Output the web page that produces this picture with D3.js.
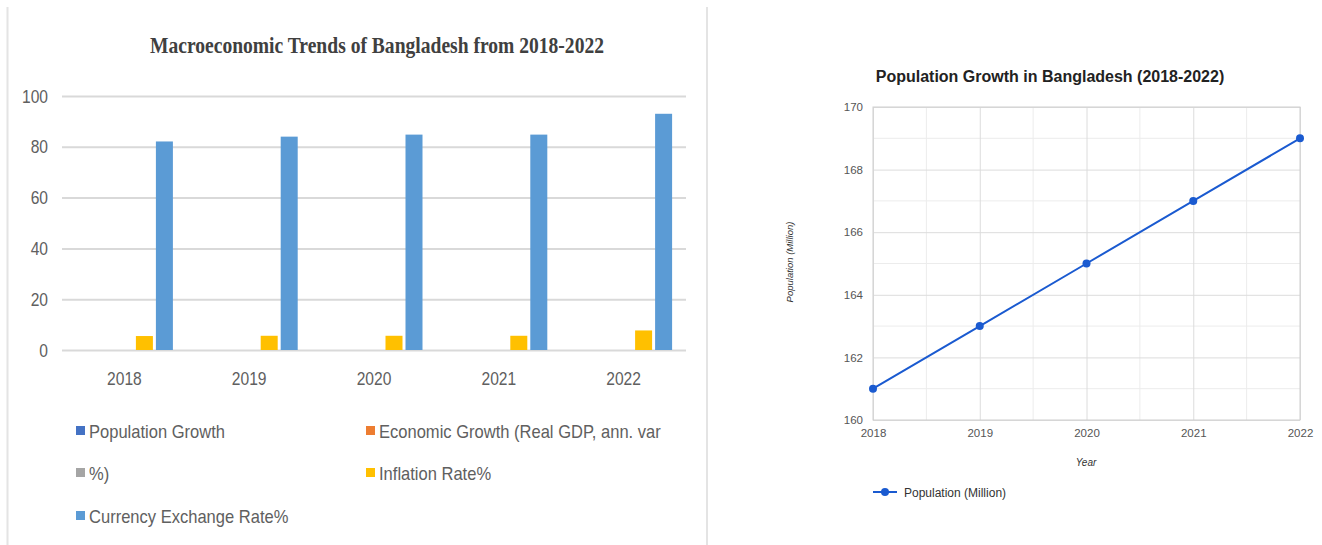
<!DOCTYPE html>
<html>
<head>
<meta charset="utf-8">
<script src="https://cdnjs.cloudflare.com/ajax/libs/d3/7.8.5/d3.min.js"></script>
<style>
  body { margin: 0; background: #fff; }
  svg { display: block; }
</style>
</head>
<body>
<svg id="chart" width="1322" height="545"></svg>
<script>
// left chart data
const years = ["2018", "2019", "2020", "2021", "2022"];
const seriesNames = ["Population Growth", "Economic Growth (Real GDP, ann. var", "%)", "Inflation Rate%", "Currency Exchange Rate%"];
const seriesColors = ["#4472c4", "#ed7d31", "#a5a5a5", "#ffc000", "#5b9bd5"];
const popGrowth = [0, 0, 0, 0, 0];
const econGrowth = [0, 0, 0, 0, 0];
const pctCol = [0, 0, 0, 0, 0];
const inflation = [5.5, 5.6, 5.6, 5.6, 7.7];
const exchange = [82.1, 84.0, 84.8, 84.8, 93.0];
const barTicks = [0, 20, 40, 60, 80, 100];

// right chart data
const popYears = [2018, 2019, 2020, 2021, 2022];
const population = [161, 163, 165, 167, 169];
const popTicks = [160, 162, 164, 166, 168, 170];

const svg = d3.select("#chart");
const sans = "'Liberation Sans', Arial, sans-serif";

// squeeze text so it looks like the condensed office font
function condense(sel, k) {
  sel.each(function () {
    const w = this.getComputedTextLength();
    d3.select(this).attr("textLength", w * k).attr("lengthAdjust", "spacingAndGlyphs");
  });
}

// panel borders
svg.append("line").attr("x1", 7.5).attr("x2", 7.5).attr("y1", 7).attr("y2", 545)
  .attr("stroke", "#e4e4e4").attr("stroke-width", 2);
svg.append("line").attr("x1", 707).attr("x2", 707).attr("y1", 7).attr("y2", 545)
  .attr("stroke", "#e4e4e4").attr("stroke-width", 2);

// ---------- left: grouped bars ----------
const L = { left: 62, right: 686, top: 96, bottom: 350 };
const gL = svg.append("g");

gL.append("text").attr("x", 377).attr("y", 53).attr("text-anchor", "middle")
  .attr("font-family", "'Liberation Serif', 'Times New Roman', serif").attr("font-weight", "bold")
  .attr("font-size", 22.5).attr("fill", "#404040")
  .attr("textLength", 454).attr("lengthAdjust", "spacingAndGlyphs")
  .text("Macroeconomic Trends of Bangladesh from 2018-2022");

const x0 = d3.scaleBand().domain(years).range([L.left, L.right]);
const y0 = d3.scaleLinear().domain([0, 100]).range([L.bottom, L.top]);
const x1 = d3.scaleBand().domain(d3.range(5)).range([-48.5, 48.5]).paddingInner(0.15);

const yAxL = gL.append("g").attr("transform", `translate(${L.left},0)`)
  .call(d3.axisLeft(y0).tickValues(barTicks).tickSize(-(L.right - L.left)).tickPadding(14));
yAxL.select(".domain").remove();
yAxL.selectAll(".tick line").attr("stroke", "#d9d9d9").attr("stroke-width", 2);
yAxL.selectAll(".tick text").attr("font-family", sans).attr("font-size", 19).attr("fill", "#606060")
  .call(condense, 0.82);

const xAxL = gL.append("g").attr("transform", `translate(0,${L.bottom})`)
  .call(d3.axisBottom(x0).tickSize(0).tickPadding(22));
xAxL.select(".domain").remove();
xAxL.selectAll(".tick text").attr("font-family", sans).attr("font-size", 19).attr("fill", "#606060")
  .call(condense, 0.82);

const allSeries = [popGrowth, econGrowth, pctCol, inflation, exchange];
allSeries.forEach((vals, si) => {
  gL.append("g").selectAll("rect").data(vals).enter().append("rect")
    .attr("x", (d, i) => x0(years[i]) + x0.bandwidth() / 2 + x1(si))
    .attr("width", x1.bandwidth())
    .attr("y", d => y0(d))
    .attr("height", d => y0(0) - y0(d))
    .attr("fill", seriesColors[si]);
});

// legend
const legPos = [[76, 431], [366, 431], [76, 473], [366, 473], [76, 516]];
seriesNames.forEach((name, i) => {
  const [lx, ly] = legPos[i];
  gL.append("rect").attr("x", lx).attr("y", ly - 5).attr("width", 9).attr("height", 9)
    .attr("fill", seriesColors[i]);
  gL.append("text").attr("x", lx + 13).attr("y", ly + 7)
    .attr("font-family", sans).attr("font-size", 19).attr("fill", "#606060").text(name)
    .call(condense, 0.87);
});

// ---------- right: line chart ----------
const R = { left: 873, right: 1300, top: 107, bottom: 420 };
const gR = svg.append("g");

gR.append("text").attr("x", 1050).attr("y", 82).attr("text-anchor", "middle")
  .attr("font-family", sans).attr("font-weight", "bold").attr("font-size", 16).attr("fill", "#222")
  .text("Population Growth in Bangladesh (2018-2022)");

const xR = d3.scaleLinear().domain([2018, 2022]).range([R.left, R.right]);
const yR = d3.scaleLinear().domain([160, 170]).range([R.bottom, R.top]);

// minor grid
gR.append("g").selectAll("line").data([161, 163, 165, 167, 169])
  .enter().append("line")
  .attr("x1", R.left).attr("x2", R.right)
  .attr("y1", d => yR(d)).attr("y2", d => yR(d))
  .attr("stroke", "#ececec");
gR.append("g").selectAll("line").data([2018.5, 2019.5, 2020.5, 2021.5])
  .enter().append("line")
  .attr("x1", d => xR(d)).attr("x2", d => xR(d))
  .attr("y1", R.top).attr("y2", R.bottom)
  .attr("stroke", "#ececec");

const yAxR = gR.append("g").attr("transform", `translate(${R.left},0)`)
  .call(d3.axisLeft(yR).tickValues(popTicks).tickFormat(d3.format("d")).tickSize(-(R.right - R.left)).tickPadding(10));
yAxR.select(".domain").remove();
yAxR.selectAll(".tick line").attr("stroke", "#dcdcdc");
yAxR.selectAll(".tick text").attr("font-family", sans).attr("font-size", 11.5).attr("fill", "#555");

const xAxR = gR.append("g").attr("transform", `translate(0,${R.bottom})`)
  .call(d3.axisBottom(xR).tickValues(popYears).tickFormat(d3.format("d")).tickSize(-(R.bottom - R.top)).tickPadding(9));
xAxR.select(".domain").remove();
xAxR.selectAll(".tick line").attr("stroke", "#dcdcdc");
xAxR.selectAll(".tick text").attr("font-family", sans).attr("font-size", 11.5).attr("fill", "#555");

gR.append("rect").attr("x", R.left).attr("y", R.top).attr("width", R.right - R.left).attr("height", R.bottom - R.top)
  .attr("fill", "none").attr("stroke", "#cfcfcf");

gR.append("text").attr("x", 1086).attr("y", 466).attr("text-anchor", "middle")
  .attr("font-family", sans).attr("font-style", "italic").attr("font-size", 10).attr("fill", "#333").text("Year");
gR.append("text").attr("transform", "translate(793,262) rotate(-90)").attr("text-anchor", "middle")
  .attr("font-family", sans).attr("font-style", "italic").attr("font-size", 9.5).attr("fill", "#333")
  .text("Population (Million)");

const blue = "#1a5ad0";
gR.append("path").datum(popYears.map((yr, i) => [yr, population[i]]))
  .attr("d", d3.line().x(d => xR(d[0])).y(d => yR(d[1])))
  .attr("fill", "none").attr("stroke", blue).attr("stroke-width", 2);
gR.selectAll("circle.pt").data(population).enter().append("circle").attr("class", "pt")
  .attr("cx", (d, i) => xR(popYears[i])).attr("cy", d => yR(d)).attr("r", 4).attr("fill", blue);

gR.append("line").attr("x1", 873).attr("x2", 897).attr("y1", 492).attr("y2", 492)
  .attr("stroke", blue).attr("stroke-width", 2);
gR.append("circle").attr("cx", 885).attr("cy", 492).attr("r", 4).attr("fill", blue);
gR.append("text").attr("x", 904).attr("y", 496.5)
  .attr("font-family", sans).attr("font-size", 12).attr("fill", "#333").text("Population (Million)");
</script>
</body>
</html>
